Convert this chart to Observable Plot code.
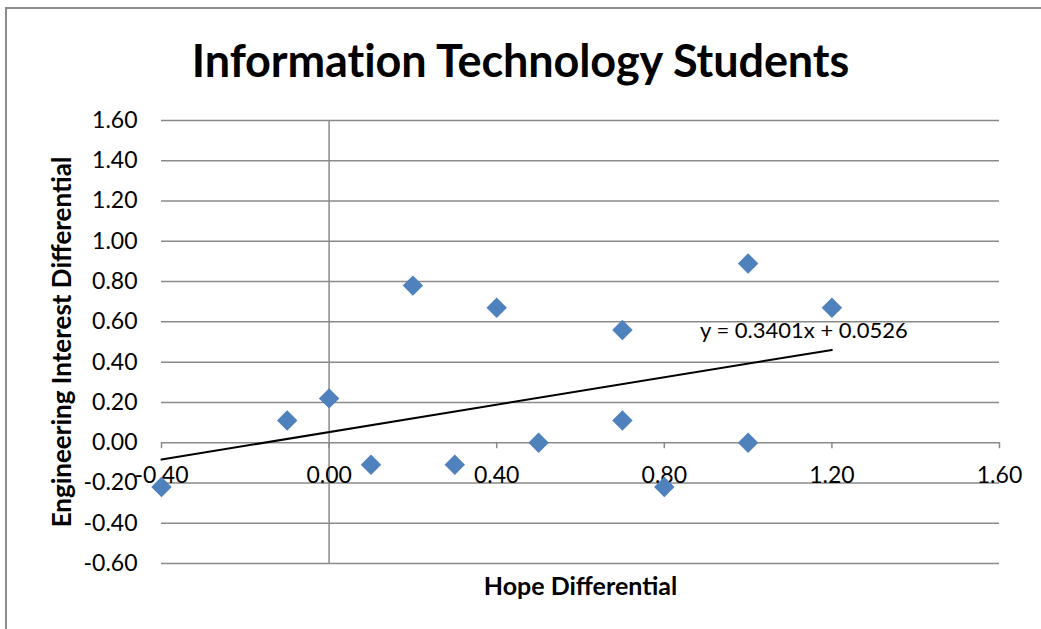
<!DOCTYPE html>
<html>
<head>
<meta charset="utf-8">
<script src="https://cdn.jsdelivr.net/npm/d3@7"></script>
<script src="https://cdn.jsdelivr.net/npm/@observablehq/plot@0.6"></script>
<style>
  html, body { margin: 0; padding: 0; background: #fff; }
  #wrap { position: relative; width: 1041px; height: 629px; overflow: hidden; font-family: Lato, "Open Sans", sans-serif; }
  #frame { position: absolute; left: 5px; top: 7px; width: 1100px; height: 700px; border-left: 2px solid #8c8c8c; border-top: 2px solid #8c8c8c; box-sizing: border-box; }
  #title { position: absolute; left: 0; top: 0; width: 1041px; height: 100px; text-align: center; line-height: 120px; font-size: 45px; font-weight: bold; color: #000; letter-spacing: -0.1px; }
  #chart { position: absolute; left: 0; top: 100px; }
</style>
</head>
<body>
<div id="wrap">
  <div id="frame"></div>
  <div id="title">Information Technology Students</div>
  <div id="chart"></div>
</div>
<script>
const titleText = "Information Technology Students";
const xLabel = "Hope Differential";
const yLabel = "Engineering Interest Differential";

const hope = [-0.4, -0.1, 0.0, 0.1, 0.2, 0.3, 0.4, 0.5, 0.7, 0.7, 0.8, 1.0, 1.0, 1.2];
const interest = [-0.22, 0.11, 0.22, -0.11, 0.78, -0.11, 0.67, 0.0, 0.56, 0.11, -0.22, 0.89, 0.0, 0.67];

const xTicks = [-0.4, 0.0, 0.4, 0.8, 1.2, 1.6];
const yTicks = [-0.6, -0.4, -0.2, 0.0, 0.2, 0.4, 0.6, 0.8, 1.0, 1.2, 1.4, 1.6];

const slope = [0.3401];
const intercept = [0.0526];
const trendX = [-0.4, 1.2];
const equationText = "y = 0.3401x + 0.0526";

document.getElementById("title").textContent = titleText;

const points = hope.map((h, i) => ({x: h, y: interest[i]}));
const trend = trendX.map(x => ({x, y: slope[0] * x + intercept[0]}));
const fmt = d => d.toFixed(2);

const chart = Plot.plot({
  width: 1041,
  height: 529,
  marginLeft: 161,
  marginRight: 42,
  marginTop: 20,
  marginBottom: 66,
  style: {fontFamily: "Lato, 'Open Sans', sans-serif", background: "transparent", overflow: "visible"},
  x: {domain: [-0.4, 1.6], axis: null},
  y: {domain: [-0.6, 1.6], axis: null},
  marks: [
    Plot.ruleY(yTicks, {stroke: "#8a8a8a", strokeWidth: 1.5, strokeOpacity: 1}),
    Plot.ruleX([0], {stroke: "#8a8a8a", strokeWidth: 1.5}),
    Plot.ruleX(xTicks, {x: d => d, y1: 0, y2: -0.03, stroke: "#8a8a8a", strokeWidth: 1.5}),
    Plot.text(yTicks, {x: -0.4, y: d => d, text: fmt, textAnchor: "end", dx: -24, fontSize: 23, fill: "#000"}),
    Plot.text(xTicks, {x: d => d, y: 0, text: fmt, dy: 33, fontSize: 23, fill: "#000"}),
    Plot.line(trend, {x: "x", y: "y", stroke: "#000", strokeWidth: 2}),
    Plot.dot(points, {x: "x", y: "y", symbol: "diamond2", r: 9.2, fill: "#4f81bd", stroke: "none"}),
    Plot.text(trend.slice(1), {x: "x", y: "y", text: () => equationText, dx: -28, dy: -19, fontSize: 22, fill: "#000"}),
    Plot.text([yLabel], {frameAnchor: "left", textAnchor: "middle", rotate: -90, dx: -99, fontSize: 26, fontWeight: "bold", fill: "#000"}),
    Plot.text([xLabel], {frameAnchor: "bottom", textAnchor: "middle", dy: 31, fontSize: 25, fontWeight: "bold", fill: "#000"})
  ]
});
document.getElementById("chart").appendChild(chart);
</script>
</body>
</html>
